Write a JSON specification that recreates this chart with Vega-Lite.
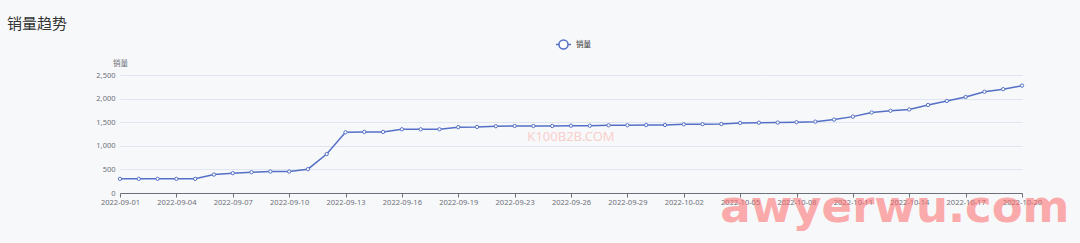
{
  "$schema": "https://vega.github.io/schema/vega-lite/v6.json",
  "width": 902,
  "height": 118,
  "autosize": "none",
  "padding": {"left": 120, "top": 75, "right": 58, "bottom": 50},
  "background": "#f7f8fa",
  "title": {
    "text": "销量趋势",
    "anchor": "start",
    "frame": "group",
    "dx": -113,
    "offset": 4,
    "fontSize": 15,
    "font": "Noto Sans CJK SC",
    "fontWeight": "normal",
    "color": "#333333"
  },
  "config": {
    "view": {"stroke": null},
    "font": "Noto Sans",
    "axis": {"labelFont": "Noto Sans", "titleFont": "Noto Sans CJK SC"}
  },
  "data": {
    "values": [
      {"date": "2022-09-01", "value": 300},
      {"date": "2022-09-02", "value": 300},
      {"date": "2022-09-03", "value": 300},
      {"date": "2022-09-04", "value": 300},
      {"date": "2022-09-05", "value": 300},
      {"date": "2022-09-06", "value": 390},
      {"date": "2022-09-07", "value": 420},
      {"date": "2022-09-08", "value": 440},
      {"date": "2022-09-09", "value": 455},
      {"date": "2022-09-10", "value": 455},
      {"date": "2022-09-11", "value": 505},
      {"date": "2022-09-12", "value": 825},
      {"date": "2022-09-13", "value": 1285},
      {"date": "2022-09-14", "value": 1295},
      {"date": "2022-09-15", "value": 1295},
      {"date": "2022-09-16", "value": 1350},
      {"date": "2022-09-17", "value": 1350},
      {"date": "2022-09-18", "value": 1350},
      {"date": "2022-09-19", "value": 1395},
      {"date": "2022-09-20", "value": 1400},
      {"date": "2022-09-21", "value": 1415},
      {"date": "2022-09-23", "value": 1420},
      {"date": "2022-09-24", "value": 1420},
      {"date": "2022-09-25", "value": 1420},
      {"date": "2022-09-26", "value": 1425},
      {"date": "2022-09-27", "value": 1425},
      {"date": "2022-09-28", "value": 1435},
      {"date": "2022-09-29", "value": 1435},
      {"date": "2022-09-30", "value": 1440},
      {"date": "2022-10-01", "value": 1440},
      {"date": "2022-10-02", "value": 1455},
      {"date": "2022-10-03", "value": 1458},
      {"date": "2022-10-04", "value": 1460},
      {"date": "2022-10-05", "value": 1485},
      {"date": "2022-10-06", "value": 1490},
      {"date": "2022-10-07", "value": 1492},
      {"date": "2022-10-08", "value": 1500},
      {"date": "2022-10-09", "value": 1512},
      {"date": "2022-10-10", "value": 1555},
      {"date": "2022-10-11", "value": 1618},
      {"date": "2022-10-12", "value": 1705},
      {"date": "2022-10-13", "value": 1742},
      {"date": "2022-10-14", "value": 1770},
      {"date": "2022-10-15", "value": 1865},
      {"date": "2022-10-16", "value": 1950},
      {"date": "2022-10-17", "value": 2035},
      {"date": "2022-10-18", "value": 2145},
      {"date": "2022-10-19", "value": 2200},
      {"date": "2022-10-20", "value": 2275}
    ]
  },
  "encoding": {
    "x": {
      "field": "date",
      "type": "ordinal",
      "scale": {"type": "point", "padding": 0},
      "axis": {
        "title": null,
        "values": ["2022-09-01", "2022-09-04", "2022-09-07", "2022-09-10", "2022-09-13", "2022-09-16", "2022-09-19", "2022-09-23", "2022-09-26", "2022-09-29", "2022-10-02", "2022-10-05", "2022-10-08", "2022-10-11", "2022-10-14", "2022-10-17", "2022-10-20"],
        "labelAngle": 0,
        "labelFontSize": 7.5,
        "labelColor": "#6e7079",
        "labelPadding": 1,
        "labelOverlap": false,
        "labelFlush": false,
        "labelBound": false,
        "tickSize": 4,
        "tickColor": "#6e7079",
        "domainColor": "#6e7079",
        "domainWidth": 1,
        "grid": false
      }
    },
    "y": {
      "field": "value",
      "type": "quantitative",
      "scale": {"domain": [0, 2500]},
      "axis": {
        "title": "销量",
        "titleAngle": 0,
        "titleX": 0,
        "titleY": -12,
        "titleAlign": "center",
        "titleBaseline": "middle",
        "titleFontSize": 7.5,
        "titleFontWeight": "normal",
        "titleColor": "#6e7079",
        "values": [0, 500, 1000, 1500, 2000, 2500],
        "format": ",d",
        "labelFontSize": 7.5,
        "labelColor": "#6e7079",
        "labelPadding": 5,
        "ticks": false,
        "domain": false,
        "gridColor": "#e0e6f1",
        "gridWidth": 1
      }
    }
  },
  "layer": [
    {
      "mark": {"type": "line", "strokeWidth": 1.5},
      "encoding": {
        "color": {
          "datum": "销量",
          "scale": {"range": ["#5470c6"]},
          "legend": {
            "title": null,
            "orient": "none",
            "legendX": 435,
            "legendY": -39,
            "symbolType": "M-1,0H-0.6M0.6,0H1M-0.6,0A0.6,0.6 0 1,0 0.6,0A0.6,0.6 0 1,0 -0.6,0",
            "symbolSize": 225,
            "symbolStrokeWidth": 1.5,
            "symbolStrokeColor": "#5470c6",
            "symbolFillColor": "#ffffff",
            "labelFontSize": 7.5,
            "labelFont": "Noto Sans CJK SC",
            "labelColor": "#333333",
            "labelOffset": 4
          }
        }
      }
    },
    {
      "mark": {"type": "point", "shape": "circle", "filled": true, "fill": "#ffffff", "stroke": "#5470c6", "strokeWidth": 1, "size": 11, "opacity": 1}
    },
    {
      "transform": [{"filter": "datum.date == '2022-09-26'"}],
      "mark": {"type": "text", "text": "K100B2B.COM", "font": "Noto Sans", "fontSize": 13, "color": "#f9cfcb", "align": "center", "baseline": "middle"},
      "encoding": {
        "y": {"datum": 1190}
      }
    },
    {
      "transform": [{"filter": "datum.date == '2022-10-04'"}],
      "mark": {"type": "text", "text": "awyerwu.com", "font": "DejaVu Sans", "fontWeight": "bold", "fontSize": 45, "color": "#ff6b6b", "opacity": 0.55, "align": "left", "baseline": "alphabetic", "dx": -1},
      "encoding": {
        "y": {"datum": -610}
      }
    }
  ]
}
